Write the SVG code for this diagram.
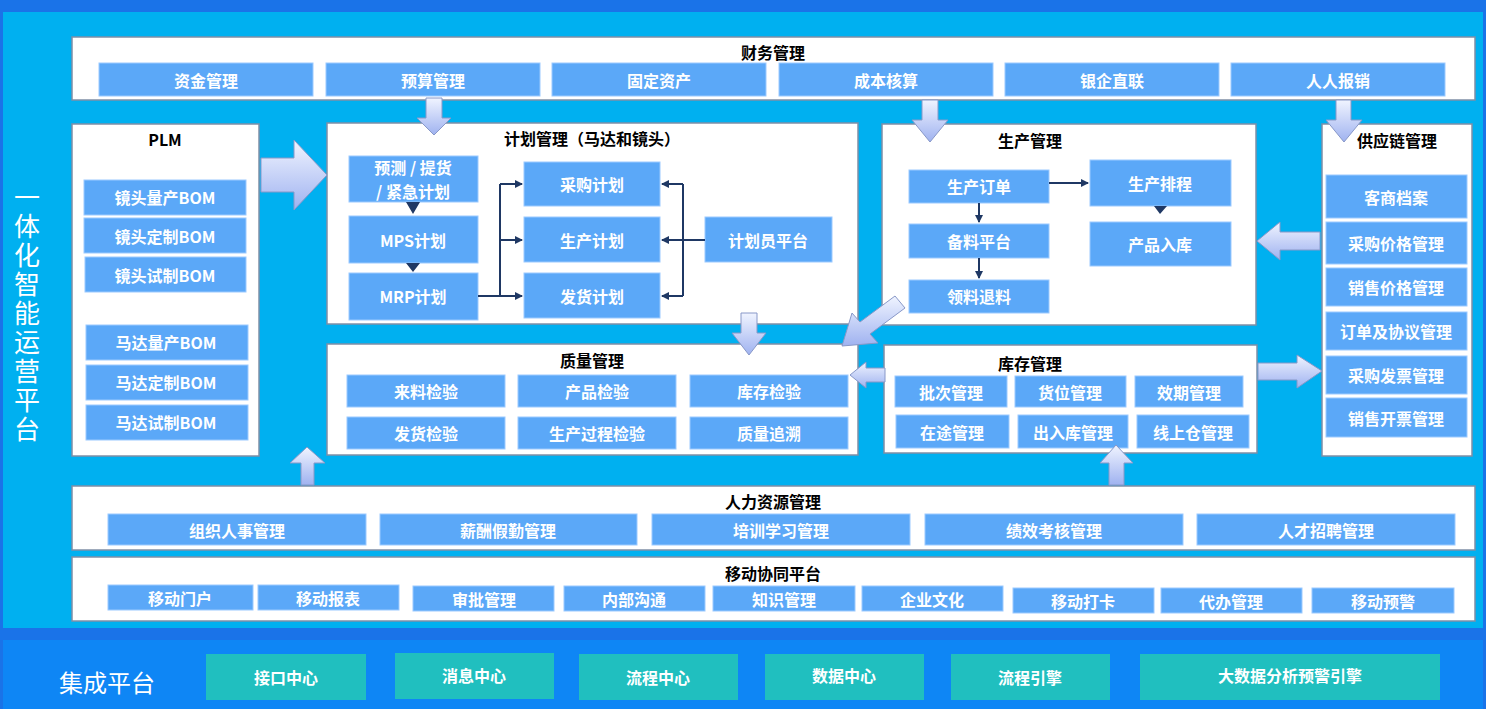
<svg xmlns="http://www.w3.org/2000/svg" width="1486" height="709" viewBox="0 0 1486 709">
<defs>
<style>
.t{font-family:"Noto Sans CJK SC","Liberation Sans",sans-serif;font-weight:bold;text-anchor:middle;dominant-baseline:central}
.w{fill:#fff;font-size:16px}
.k{fill:#000;font-size:16px}
.p{fill:#fff;stroke:#7f8fa6;stroke-width:1.5}
.b{fill:#5ba8f8;stroke:#9ccaff;stroke-width:1}
.g{fill:#20bfbf}
.big{fill:url(#gr);stroke:#8898c8;stroke-width:1}
.c{stroke:#1f3864;stroke-width:2;fill:none}
</style>
<linearGradient id="gr" x1="0" y1="0" x2="0" y2="1"><stop offset="0" stop-color="#f0f4ff"/><stop offset="1" stop-color="#9fb2f0"/></linearGradient>
<marker id="m" markerWidth="8" markerHeight="8" refX="7" refY="4" orient="auto" markerUnits="userSpaceOnUse"><path d="M0,0L8,4L0,8z" fill="#1f3864"/></marker>
</defs>
<rect width="1486" height="709" fill="#1a73e8"/>
<rect x="3" y="12" width="1480" height="616" fill="#00b0f0"/>
<rect x="3" y="640" width="1480" height="69" fill="#0e86f5"/>
<text x="27" y="315" font-family="Noto Sans CJK SC,sans-serif" font-size="26" fill="#fff" text-anchor="middle" style="writing-mode:vertical-rl;letter-spacing:3px">一体化智能运营平台</text>
<text x="107" y="681" font-family="Noto Sans CJK SC,sans-serif" font-size="24" fill="#fff" text-anchor="middle" dominant-baseline="central">集成平台</text>

<g id="finance"><rect class="p" x="72" y="37" width="1403" height="63"/><text class="t k" x="773" y="52">财务管理</text>
<rect class="b" x="99" y="63" width="214" height="33"/><text class="t w" x="206" y="80">资金管理</text>
<rect class="b" x="326" y="63" width="214" height="33"/><text class="t w" x="433" y="80">预算管理</text>
<rect class="b" x="552" y="63" width="214" height="33"/><text class="t w" x="659" y="80">固定资产</text>
<rect class="b" x="779" y="63" width="214" height="33"/><text class="t w" x="886" y="80">成本核算</text>
<rect class="b" x="1005" y="63" width="214" height="33"/><text class="t w" x="1112" y="80">银企直联</text>
<rect class="b" x="1231" y="63" width="214" height="33"/><text class="t w" x="1338" y="80">人人报销</text></g>

<g id="plm"><rect class="p" x="72" y="124" width="187" height="332"/><text class="t k" x="165" y="139" font-family="Liberation Sans,sans-serif">PLM</text>
<rect class="b" x="84" y="180" width="162" height="35"/><text class="t w" x="165" y="197">镜头量产BOM</text>
<rect class="b" x="84" y="218" width="162" height="35"/><text class="t w" x="165" y="236">镜头定制BOM</text>
<rect class="b" x="85" y="257" width="161" height="35"/><text class="t w" x="165" y="275">镜头试制BOM</text>
<rect class="b" x="86" y="325" width="162" height="35"/><text class="t w" x="166" y="342">马达量产BOM</text>
<rect class="b" x="86" y="365" width="162" height="35"/><text class="t w" x="166" y="382">马达定制BOM</text>
<rect class="b" x="86" y="405" width="162" height="35"/><text class="t w" x="166" y="422">马达试制BOM</text></g>

<g id="plan"><rect class="p" x="327" y="123" width="531" height="201"/><text class="t k" x="592" y="138">计划管理（马达和镜头）</text>
<rect class="b" x="349" y="156" width="129" height="46"/><text class="t w" x="413" y="167" font-size="15">预测 / 提货</text><text class="t w" x="413" y="191" font-size="15">/ 紧急计划</text>
<rect class="b" x="349" y="216" width="129" height="47"/><text class="t w" x="413" y="240">MPS计划</text>
<rect class="b" x="349" y="273" width="129" height="47"/><text class="t w" x="413" y="296">MRP计划</text>
<rect class="b" x="524" y="162" width="136" height="44"/><text class="t w" x="592" y="184">采购计划</text>
<rect class="b" x="524" y="217" width="136" height="45"/><text class="t w" x="592" y="240">生产计划</text>
<rect class="b" x="524" y="273" width="136" height="45"/><text class="t w" x="592" y="296">发货计划</text>
<rect class="b" x="705" y="217" width="127" height="45"/><text class="t w" x="768" y="240">计划员平台</text></g>

<g id="production"><rect class="p" x="882" y="124" width="374" height="201"/><text class="t k" x="1030" y="140">生产管理</text>
<rect class="b" x="909" y="170" width="140" height="33"/><text class="t w" x="979" y="186">生产订单</text>
<rect class="b" x="909" y="224" width="140" height="34"/><text class="t w" x="979" y="241">备料平台</text>
<rect class="b" x="909" y="280" width="140" height="33"/><text class="t w" x="979" y="296">领料退料</text>
<rect class="b" x="1090" y="160" width="141" height="46"/><text class="t w" x="1160" y="183">生产排程</text>
<rect class="b" x="1090" y="222" width="141" height="44"/><text class="t w" x="1160" y="244">产品入库</text></g>

<g id="supply"><rect class="p" x="1322" y="124" width="150" height="332"/><text class="t k" x="1397" y="140">供应链管理</text>
<rect class="b" x="1326" y="175" width="141" height="43"/><text class="t w" x="1396" y="197">客商档案</text>
<rect class="b" x="1326" y="222" width="141" height="42"/><text class="t w" x="1396" y="243">采购价格管理</text>
<rect class="b" x="1326" y="268" width="141" height="38"/><text class="t w" x="1396" y="287">销售价格管理</text>
<rect class="b" x="1326" y="312" width="141" height="38"/><text class="t w" x="1396" y="331" font-size="13">订单及协议管理</text>
<rect class="b" x="1326" y="356" width="141" height="38"/><text class="t w" x="1396" y="375">采购发票管理</text>
<rect class="b" x="1326" y="398" width="141" height="39"/><text class="t w" x="1396" y="418">销售开票管理</text></g>

<g id="quality"><rect class="p" x="327" y="344" width="531" height="111"/><text class="t k" x="592" y="360">质量管理</text>
<rect class="b" x="347" y="375" width="158" height="32"/><text class="t w" x="426" y="391">来料检验</text>
<rect class="b" x="518" y="375" width="158" height="32"/><text class="t w" x="597" y="391">产品检验</text>
<rect class="b" x="690" y="375" width="158" height="32"/><text class="t w" x="769" y="391">库存检验</text>
<rect class="b" x="347" y="417" width="158" height="32"/><text class="t w" x="426" y="433">发货检验</text>
<rect class="b" x="518" y="417" width="158" height="32"/><text class="t w" x="597" y="433">生产过程检验</text>
<rect class="b" x="690" y="417" width="158" height="32"/><text class="t w" x="769" y="433">质量追溯</text></g>

<g id="inventory"><rect class="p" x="884" y="345" width="373" height="108"/><text class="t k" x="1030" y="363">库存管理</text>
<rect class="b" x="895" y="376" width="112" height="31"/><text class="t w" x="951" y="392">批次管理</text>
<rect class="b" x="1015" y="376" width="111" height="31"/><text class="t w" x="1070" y="392">货位管理</text>
<rect class="b" x="1135" y="376" width="108" height="31"/><text class="t w" x="1189" y="392">效期管理</text>
<rect class="b" x="896" y="415" width="113" height="33"/><text class="t w" x="952" y="432">在途管理</text>
<rect class="b" x="1018" y="415" width="110" height="33"/><text class="t w" x="1073" y="432">出入库管理</text>
<rect class="b" x="1137" y="415" width="112" height="33"/><text class="t w" x="1193" y="432">线上仓管理</text></g>

<g id="hr"><rect class="p" x="72" y="486" width="1403" height="64"/><text class="t k" x="773" y="501">人力资源管理</text>
<rect class="b" x="108" y="514" width="258" height="31"/><text class="t w" x="237" y="530">组织人事管理</text>
<rect class="b" x="380" y="514" width="257" height="31"/><text class="t w" x="508" y="530">薪酬假勤管理</text>
<rect class="b" x="652" y="514" width="258" height="31"/><text class="t w" x="781" y="530">培训学习管理</text>
<rect class="b" x="925" y="514" width="258" height="31"/><text class="t w" x="1054" y="530">绩效考核管理</text>
<rect class="b" x="1197" y="514" width="258" height="31"/><text class="t w" x="1326" y="530">人才招聘管理</text></g>

<g id="mobile"><rect class="p" x="72" y="557" width="1403" height="64"/><text class="t k" x="773" y="573">移动协同平台</text>
<rect class="b" x="108" y="585" width="145" height="25"/><text class="t w" x="180" y="598">移动门户</text>
<rect class="b" x="258" y="585" width="141" height="25"/><text class="t w" x="328" y="598">移动报表</text>
<rect class="b" x="413" y="586" width="141" height="25"/><text class="t w" x="484" y="599">审批管理</text>
<rect class="b" x="564" y="586" width="141" height="25"/><text class="t w" x="634" y="599">内部沟通</text>
<rect class="b" x="713" y="586" width="142" height="25"/><text class="t w" x="784" y="599">知识管理</text>
<rect class="b" x="862" y="586" width="141" height="25"/><text class="t w" x="932" y="599">企业文化</text>
<rect class="b" x="1013" y="588" width="141" height="25"/><text class="t w" x="1083" y="601">移动打卡</text>
<rect class="b" x="1161" y="588" width="141" height="25"/><text class="t w" x="1231" y="601">代办管理</text>
<rect class="b" x="1312" y="588" width="142" height="25"/><text class="t w" x="1383" y="601">移动预警</text></g>

<g id="integration">
<rect class="g" x="206" y="654" width="160" height="46"/><text class="t w" x="286" y="677">接口中心</text>
<rect class="g" x="395" y="653" width="159" height="46"/><text class="t w" x="474" y="675">消息中心</text>
<rect class="g" x="579" y="654" width="159" height="46"/><text class="t w" x="658" y="677">流程中心</text>
<rect class="g" x="765" y="654" width="159" height="46"/><text class="t w" x="844" y="675">数据中心</text>
<rect class="g" x="951" y="654" width="159" height="46"/><text class="t w" x="1030" y="677">流程引擎</text>
<rect class="g" x="1140" y="654" width="300" height="46"/><text class="t w" x="1290" y="675">大数据分析预警引擎</text></g>

<g id="connectors">
<path class="big" d="M261,158H294V140L327,175L294,210V192H261Z"/>
<path class="big" d="M426,98H442V118H451L434,135L417,118H426Z"/>
<path class="big" d="M922,100H938V120H948L930,142L912,120H922Z"/>
<path class="big" d="M1336,100H1351V120H1362L1344,142L1326,120H1336Z"/>
<path class="big" d="M1320,232H1280V222L1257,241L1280,260V250H1320Z"/>
<path class="big" d="M905,308L870,334L878,343L842,346L852,313L860,322L895,296Z"/>
<path class="big" d="M741,313H757V333H766L749,355L732,333H741Z"/>
<path class="big" d="M885,368H866V362L850,375L866,388V382H885Z"/>
<path class="big" d="M1258,363H1297V355L1322,371L1297,388V380H1258Z"/>
<path class="big" d="M301,485V463H290L307,447L325,463H314V485Z"/>
<path class="big" d="M1109,485V463H1100L1116,445L1133,463H1124V485Z"/>
<path d="M406,202H420L413,214Z M406,263H420L413,272Z" fill="#1f3864"/>
<path class="c" d="M478,296H500 M500,184V296"/>
<path class="c" d="M500,184H522" marker-end="url(#m)"/>
<path class="c" d="M500,240H522" marker-end="url(#m)"/>
<path class="c" d="M500,296H522" marker-end="url(#m)"/>
<path class="c" d="M705,240H683 M683,184V296"/>
<path class="c" d="M683,184H662" marker-end="url(#m)"/>
<path class="c" d="M683,240H662" marker-end="url(#m)"/>
<path class="c" d="M683,296H662" marker-end="url(#m)"/>
<path class="c" d="M1049,183H1088" marker-end="url(#m)"/>
<path class="c" d="M979,203V222" marker-end="url(#m)"/>
<path class="c" d="M979,258V278" marker-end="url(#m)"/>
<path d="M1154,206H1167L1160,214Z" fill="#1f3864"/>
</g>
</svg>
